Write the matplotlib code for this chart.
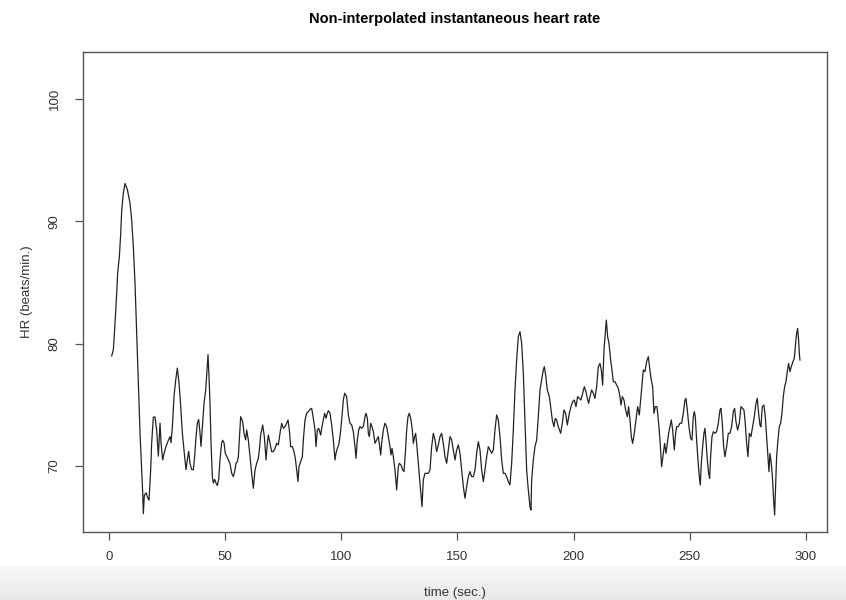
import numpy as np
import matplotlib.pyplot as plt
from matplotlib.colors import LinearSegmentedColormap

# beat times (s) and instantaneous heart rate (beats/min)
time_s = [
    1.15, 1.87, 2.59, 3.30, 3.73, 4.45, 5.03, 5.46, 6.17, 6.89,
    7.90, 9.04, 9.76, 10.48, 11.20, 11.91, 12.63, 13.35, 14.07, 14.50,
    14.78, 15.21, 15.93, 16.65, 17.22, 17.94, 18.37, 19.09, 19.81, 20.52,
    21.24, 21.96, 22.39, 23.11, 23.68, 24.54, 25.55, 26.26, 26.69, 27.27,
    27.99, 28.70, 29.42, 30.14, 30.85, 31.57, 32.43, 33.15, 33.72, 34.30,
    34.87, 35.59, 36.31, 36.88, 37.46, 38.03, 38.60, 39.18, 39.61, 40.18,
    40.90, 41.62, 42.19, 42.62, 43.05, 43.48, 43.91, 44.49, 44.92, 45.49,
    46.07, 46.64, 47.21, 47.79, 48.50, 48.94, 49.51, 50.08, 50.66, 51.37,
    52.09,
    52.81, 53.52, 54.24, 54.67, 55.25, 55.68, 56.11, 56.68, 57.54, 58.12,
    58.83, 59.26, 59.98, 60.70, 61.42, 62.13, 62.85, 63.57, 64.29, 64.72,
    65.29, 66.15, 66.87, 67.59, 68.16, 68.59, 69.31, 70.03, 70.74, 71.46,
    72.18, 72.90, 73.61, 74.33, 75.05, 75.77, 76.48, 77.06, 77.63, 78.21,
    78.92, 79.64, 80.21, 80.79, 81.36, 81.79, 82.51, 83.23, 83.66, 84.38,
    85.09, 85.81, 86.53, 87.25, 87.96, 88.68, 89.11, 89.69, 90.26, 91.12,
    91.69, 92.27, 92.84, 93.42, 93.99, 94.42, 95.14, 95.86, 96.57, 97.29,
    97.72, 98.29, 98.87, 99.44, 100.16, 100.88, 101.45, 102.31, 103.03, 103.75,
    104.47, 105.18, 105.90, 106.33, 106.90, 107.48, 108.05, 108.77, 109.49, 110.20,
    110.64, 111.21, 111.64, 112.07, 112.64, 113.22, 113.79, 114.51, 115.23, 115.94,
    116.37, 116.95,
    117.38, 118.09, 118.81, 119.53, 120.25, 120.96, 121.40, 121.83, 122.40, 123.12,
    123.83, 124.55, 124.98, 125.70, 126.42, 126.99, 127.57, 128.14, 128.71, 129.29,
    130.00, 130.58, 131.01, 131.58, 132.01, 132.44, 133.16, 133.88, 134.74, 135.31,
    136.03, 136.75, 137.47, 138.18, 138.90, 139.62, 140.34, 141.05, 141.77, 142.49,
    143.21, 143.92, 144.64, 145.36, 146.08, 146.79, 147.51, 148.23, 148.95, 149.66,
    150.38, 151.10, 151.82, 152.53, 153.25, 153.97, 154.69, 155.40, 156.12, 156.84,
    157.56, 158.27, 158.99, 159.71, 160.43, 161.14, 161.86, 162.58, 163.30, 164.01,
    164.73, 165.45, 166.16, 166.88, 167.60, 168.32, 169.04, 169.75, 170.47, 171.19,
    171.90, 172.62, 173.34, 174.06, 174.77, 175.49, 176.21, 176.93, 177.64, 178.36,
    179.08, 179.80, 180.51, 181.23, 181.66,
    181.95, 182.66, 183.38, 184.10, 184.82, 185.53, 186.25, 186.97, 187.40, 187.97,
    188.69, 189.55, 190.13, 190.84, 191.56, 192.14, 192.71, 193.43, 194.43, 195.15,
    195.87, 196.58, 197.30, 198.16, 198.88, 199.60, 200.31, 201.03, 201.75, 202.47,
    203.18, 203.90, 204.62, 205.34, 205.91, 206.48, 207.06, 207.78, 208.49, 209.21,
    209.93, 210.65, 211.36, 211.94, 212.51, 213.09, 213.66, 214.09, 214.66, 215.24,
    215.96, 216.53, 217.10, 217.82, 218.54, 219.26, 219.97, 220.40, 220.98, 221.70,
    222.41, 223.13, 223.70, 224.28, 224.85, 225.43, 226.14, 226.86, 227.58, 228.30,
    228.87, 229.59, 230.02, 230.73, 231.45, 232.17, 232.89, 233.32, 234.04, 234.61,
    235.18, 235.90, 236.62, 237.19, 237.91, 238.63, 239.20, 239.78, 240.35, 240.92,
    241.50, 242.07, 242.65, 243.36, 243.94, 244.37, 245.08, 245.80,
    246.52, 247.23, 247.95, 248.38, 248.96, 249.67, 250.39, 250.97, 251.54, 251.97,
    252.40, 252.97, 253.55, 254.12, 254.55, 254.98, 255.56, 256.13, 256.56, 256.99,
    257.57, 258.14, 258.57, 259.00, 259.58, 260.15, 260.87, 261.58, 262.30, 263.02,
    263.45, 264.02, 264.60, 265.17, 265.89, 266.61, 267.32, 268.04, 268.76, 269.33,
    269.91, 270.62, 271.34, 272.06, 272.78, 273.35, 273.92, 274.50, 275.07, 275.65,
    276.36, 277.08, 277.80, 278.52, 279.09, 279.66, 280.24, 280.67, 281.24, 281.96,
    282.53, 283.11, 283.68, 284.11, 284.54, 285.12, 285.69, 286.12, 286.55, 286.98,
    287.41, 287.99, 288.56, 289.13, 289.71, 290.28, 290.86, 291.43, 292.00, 292.58,
    293.15, 293.73, 294.44, 295.02, 295.59, 296.02, 296.45, 296.88, 297.17, 297.46,
]
hr_bpm = [
    79.0, 79.5, 81.7, 84.1, 85.8, 87.1, 89.0, 90.9, 92.3, 93.1,
    92.6, 91.5, 90.1, 87.9, 84.9, 80.9, 76.8, 72.7, 69.7, 67.8,
    66.1, 67.6, 67.8, 67.4, 67.2, 69.7, 71.9, 74.0, 74.0, 72.9,
    70.8, 73.5, 71.9, 70.5, 71.0, 71.6, 72.1, 72.4, 71.9, 73.2,
    75.7, 77.0, 78.0, 76.8, 74.9, 72.7, 71.0, 69.7, 70.5, 71.2,
    70.2, 69.7, 69.7, 70.8, 72.4, 73.5, 73.8, 72.7, 71.6, 73.2,
    75.1, 76.2, 77.9, 79.1, 77.3, 75.1, 71.9, 69.1, 68.6, 68.9,
    68.6, 68.4, 68.9, 70.5, 71.9, 72.1, 71.9, 71.0, 70.8, 70.5,
    70.2,
    69.40, 69.13, 69.67, 70.22, 70.35, 70.76, 72.13, 74.03, 73.62, 72.67,
    72.13, 72.94, 72.13, 70.76, 69.40, 68.17, 69.67, 70.22, 70.63, 71.31,
    72.53, 73.35, 72.40, 70.49, 71.85, 72.53, 71.85, 71.17, 71.17, 71.44,
    71.85, 71.72, 72.67, 73.49, 73.08, 73.22, 73.49, 73.76, 72.94, 71.58,
    71.58, 71.17, 70.63, 69.67, 68.72, 69.95, 70.35, 70.76, 72.13, 73.76,
    74.31, 74.44, 74.63, 74.71, 73.90, 72.94, 71.58, 72.94, 73.08, 72.53,
    73.22, 73.76, 74.31, 73.90, 74.31, 74.52, 74.31, 73.35, 72.13, 70.49,
    71.04, 71.44, 71.72, 72.40, 73.76, 75.40, 75.94, 75.67, 74.17, 73.49,
    73.35, 72.81, 71.58, 70.63, 72.13, 72.94, 73.22, 73.08, 73.22, 74.03,
    74.31, 73.90, 72.67, 72.40, 73.49, 73.22, 72.81, 71.85, 72.13, 72.40,
    71.85, 70.90,
    71.85, 72.94, 73.49, 73.22, 72.40, 71.58, 70.90, 71.44, 70.76, 69.67,
    68.04, 69.95, 70.22, 70.08, 69.67, 69.54, 71.04, 72.94, 74.03, 74.31,
    73.76, 72.94, 71.85, 72.40, 72.67, 71.85, 70.22, 68.58, 66.67, 68.86,
    69.40, 69.40, 69.40, 69.67, 71.58, 72.67, 72.13, 71.17, 71.72, 72.40,
    72.67, 71.85, 70.76, 70.22, 71.31, 72.40, 72.13, 71.31, 70.49, 71.31,
    71.72, 71.04, 69.67, 68.31, 67.36, 68.31, 69.13, 69.54, 69.13, 69.13,
    69.67, 71.04, 71.99, 71.31, 69.67, 68.72, 69.67, 70.76, 71.58, 71.31,
    71.04, 71.31, 72.94, 74.17, 73.76, 72.40, 70.49, 69.40, 69.40, 69.13,
    68.72, 68.45, 70.22, 72.94, 76.21, 78.67, 80.57, 80.98, 80.03, 77.58,
    73.49, 69.67, 68.04, 66.67, 66.40,
    68.85, 70.49, 71.58, 72.12, 74.03, 76.21, 77.03, 77.85, 78.12, 77.44,
    76.21, 75.67, 74.85, 73.76, 73.21, 73.89, 73.76, 73.21, 72.67, 73.49,
    74.58, 74.30, 73.35, 74.30, 74.85, 75.26, 75.39, 74.85, 75.67, 75.53,
    75.39, 75.94, 76.48, 76.07, 75.53, 75.12, 75.67, 76.21, 75.94, 75.53,
    76.48, 78.12, 78.39, 77.85, 76.62, 79.48, 80.84, 81.93, 80.57, 80.03,
    78.66, 77.85, 76.89, 76.89, 76.62, 76.35, 75.67, 74.98, 75.67, 75.39,
    74.58, 74.03, 74.85, 73.76, 72.40, 71.85, 72.67, 73.76, 74.85, 74.17,
    75.39, 77.03, 77.85, 77.71, 78.53, 78.94, 77.85, 77.16, 76.48, 74.30,
    74.85, 74.85, 73.49, 72.12, 69.94, 71.03, 71.85, 71.03, 71.85, 72.67,
    73.21, 73.76, 72.94, 71.31, 72.67, 73.21, 73.21, 73.49,
    73.49, 74.30, 75.39, 75.53, 74.58, 73.21, 72.26, 72.12, 74.03, 74.44,
    74.03, 72.12, 70.49, 69.12, 68.44, 70.21, 71.58, 72.67, 73.08, 72.12,
    70.49, 69.40, 68.99, 70.76, 72.40, 72.80, 72.67, 72.80, 73.49, 74.58,
    74.71, 73.49, 71.58, 70.76, 71.58, 72.67, 72.67, 73.21, 74.44, 74.71,
    73.62, 72.94, 73.49, 74.85, 74.71, 74.58, 73.49, 71.85, 70.76, 72.67,
    72.40, 73.21, 74.03, 75.12, 75.53, 74.30, 73.35, 73.21, 74.85, 74.98,
    74.03, 72.40, 70.76, 69.53, 71.03, 70.21, 68.85, 67.22, 65.99, 68.31,
    70.76, 72.12, 73.21, 73.49, 74.30, 75.67, 76.48, 76.89, 77.71, 78.39,
    77.71, 78.12, 78.53, 78.80, 80.03, 80.84, 81.25, 80.30, 79.21, 78.66,
]
assert len(time_s) == len(hr_bpm)

x_ticks = [0, 50, 100, 150, 200, 250, 300]
y_ticks = [70, 80, 90, 100]

plt.rcParams['font.family'] = ['Liberation Sans', 'DejaVu Sans']

W, H = 846, 600
fig = plt.figure(figsize=(W / 100, H / 100), dpi=100)

# light grey band along the bottom of the screenshot
band = fig.add_axes([0, 0, 1, 34 / H])
band.axis('off')
cmap = LinearSegmentedColormap.from_list('band', ['#f8f8f8', '#e9e9e9'])
band.imshow(np.linspace(0, 1, 40).reshape(-1, 1), cmap=cmap, aspect='auto')

ax = fig.add_axes([83 / W, 68 / H, 744 / W, 480 / H])
ax.plot(time_s, hr_bpm, color='#222222', lw=0.9)
ax.set_xlim(-11.2, 309.1)
ax.set_ylim(64.6, 103.85)
ax.set_xticks(x_ticks)
ax.set_yticks(y_ticks)
for s in ax.spines.values():
    s.set_color('#555555')
    s.set_linewidth(1.0)
ax.tick_params(direction='out', length=6, width=0.9, colors='#555555',
               labelcolor='#333333', labelsize=9.5)
ax.tick_params(axis='x', pad=8)
ax.tick_params(axis='y', pad=10)
plt.setp(ax.get_yticklabels(), rotation=90, va='center')

cx = (83 + 827) / 2 / W
fig.text(cx, 1 - 19 / H, 'Non-interpolated instantaneous heart rate',
         ha='center', va='center', fontsize=10.5, fontweight='bold')
fig.text(cx, 1 - 593 / H, 'time (sec.)', ha='center', va='center',
         fontsize=9.5, color='#333333')
fig.text(27 / W, 1 - 292 / H, 'HR (beats/min.)', rotation=90,
         ha='center', va='center', fontsize=9.5, color='#333333')

fig.savefig('out.png', dpi=100)
